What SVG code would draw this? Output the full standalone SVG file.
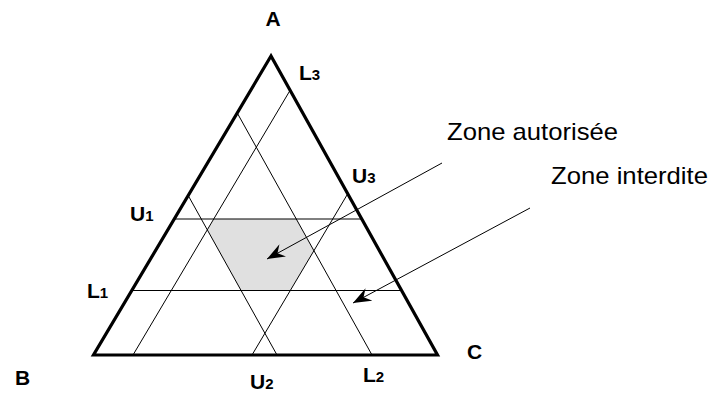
<svg xmlns="http://www.w3.org/2000/svg" width="711" height="396" viewBox="0 0 711 396">
<style>
.lbl{font-family:"Liberation Sans",Arial,sans-serif;font-weight:bold;font-size:21px;fill:#000}
.sub{font-size:15px}
.zone{font-family:"Liberation Sans",Arial,sans-serif;font-size:24px;fill:#000}
.thin{stroke:#000;stroke-width:1;fill:none}
.tri{stroke:#000;stroke-width:3.2;fill:none;stroke-linejoin:miter}
.arrow{stroke:#000;stroke-width:1;fill:none;marker-end:url(#ah)}
</style>
<defs>
<marker id="ah" viewBox="0 0 18 14" refX="18" refY="7" markerWidth="18" markerHeight="14" markerUnits="userSpaceOnUse" orient="auto">
<path d="M0,0 L18,7 L0,14 L6,7 Z" fill="#000"/>
</marker>
</defs>
<rect width="711" height="396" fill="#fff"/>
<g id="zone-autorisee-area">
<polygon points="213.7,219 296.3,219 313.9,250.7 290.3,290.5 241.1,290.5 207.3,229.8" fill="#e0e0e0"/>
</g>
<g id="connectors">
<line class="thin" x1="174.2" y1="219" x2="361.8" y2="219"/>
<line class="thin" x1="131.8" y1="290.5" x2="401.6" y2="290.5"/>
<line class="thin" x1="188.2" y1="195.5" x2="277" y2="355"/>
<line class="thin" x1="237.2" y1="112.9" x2="372" y2="355"/>
<line class="thin" x1="133" y1="355" x2="290.1" y2="90.3"/>
<line class="thin" x1="252" y1="355" x2="347.7" y2="193.8"/>
<line class="arrow" x1="442" y1="163" x2="267" y2="259"/>
<line class="arrow" x1="530" y1="208" x2="353" y2="303"/>
</g>
<g id="triangle">
<polygon class="tri" points="271,56 93.5,355 437.5,355"/>
</g>
<g id="labels">
<text class="lbl" x="273" y="26" text-anchor="middle">A</text>
<text class="lbl" x="15" y="385">B</text>
<text class="lbl" x="467" y="359">C</text>
<text class="lbl" x="299" y="80">L<tspan class="sub">3</tspan></text>
<text class="lbl" x="352" y="183">U<tspan class="sub">3</tspan></text>
<text class="lbl" x="130" y="221">U<tspan class="sub">1</tspan></text>
<text class="lbl" x="87" y="298">L<tspan class="sub">1</tspan></text>
<text class="lbl" x="250" y="389">U<tspan class="sub">2</tspan></text>
<text class="lbl" x="363" y="382">L<tspan class="sub">2</tspan></text>
<text class="zone" x="447" y="140" textLength="171" lengthAdjust="spacingAndGlyphs">Zone autorisée</text>
<text class="zone" x="551" y="184" textLength="157" lengthAdjust="spacingAndGlyphs">Zone interdite</text>
</g>
</svg>
